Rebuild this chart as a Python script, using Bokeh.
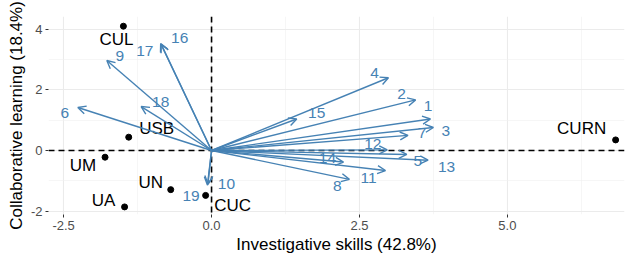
from bokeh.plotting import figure
from bokeh.models import (ColumnDataSource, Span, Arrow, OpenHead, FixedTicker,
                          Range1d, CustomJSTickFormatter)
from bokeh.embed import file_html
from bokeh.resources import INLINE
from bokeh.core.properties import value

# ---- data (variables: arrow tips) ----
var_names = [str(i) for i in range(1, 20)]
var_x = [3.70, 3.45, 3.75, 2.99, 3.30, -2.26, 3.32, 2.33, -1.77, -0.07,
         2.94, 2.97, 3.66, 2.23, 1.44, -0.86, -0.85, -1.19, -0.06]
var_y = [1.04, 1.67, 0.76, 2.40, -0.13, 1.42, 0.50, -0.95, 2.97, -1.14,
         -0.66, 0.02, -0.32, -0.38, 1.04, 3.53, 3.50, 1.45, -1.10]

# ---- data (individuals: points) ----
ind_names = ["CUL", "USB", "UM", "UN", "UA", "CUC", "CURN"]
ind_x = [-1.49, -1.40, -1.80, -0.69, -1.47, -0.10, 6.83]
ind_y = [4.10, 0.44, -0.22, -1.29, -1.86, -1.48, 0.35]

x_ticks = [-2.5, 0.0, 2.5, 5.0]
x_minor = [-1.25, 1.25, 3.75, 6.25]
y_ticks = [-2, 0, 2, 4]
y_minor = [-1, 1, 3]

# label placement offsets (pixels, screen space)
var_dx = [-2.5, -14, 12.5, -14, 11, -13, 14, -12, 13, 19,
          -17, -14.5, 18.5, -16, 20, 19, -16.5, 19.5, -17]
var_dy = [-12.5, -5.5, 3.5, -4.5, 6.5, 6, -2.5, 6.5, -4.5, -1.5,
          7, -5.5, 6.5, -4, -6, -5, 6.5, -4.5, 12.5]
ind_dx = [-7, 28, -22, -20, -21, 27, -34]
ind_dy = [13, -9, 8, -7, -6, 10, -11.5]

BLUE = "#4682B4"
FONT = "Liberation Sans"

p = figure(width=628, height=256, output_backend="svg", toolbar_location=None,
           x_range=Range1d(-2.756, 6.98), y_range=Range1d(-2.11, 4.42),
           min_border_left=48, min_border_right=4, min_border_top=16,
           min_border_bottom=42)
p.outline_line_color = None
p.background_fill_color = "white"

# axes
p.xaxis.ticker = FixedTicker(ticks=x_ticks, minor_ticks=x_minor)
p.yaxis.ticker = FixedTicker(ticks=y_ticks, minor_ticks=y_minor)
p.xaxis.formatter = CustomJSTickFormatter(code="return tick.toFixed(1);")
p.yaxis.formatter = CustomJSTickFormatter(code="return tick.toFixed(0);")
p.xaxis.axis_label = "Investigative skills (42.8%)"
p.yaxis.axis_label = "Collaborative learning (18.4%)"
for ax in (p.xaxis, p.yaxis):
    ax.axis_line_color = None
    ax.major_tick_line_color = "#333333"
    ax.major_tick_in = 0
    ax.major_tick_out = 3
    ax.minor_tick_line_color = None
    ax.major_label_text_color = "#4D4D4D"
    ax.major_label_text_font = FONT
    ax.major_label_text_font_size = "13px"
    ax.major_label_standoff = 2
    ax.axis_label_text_font = FONT
    ax.axis_label_text_font_size = "17px"
    ax.axis_label_text_font_style = "normal"
    ax.axis_label_text_color = "black"
    ax.axis_label_standoff = 2

for g in (p.xgrid, p.ygrid):
    g.grid_line_color = "#EBEBEB"
    g.grid_line_width = 1.1
    g.minor_grid_line_color = "#F0F0F0"
    g.minor_grid_line_width = 0.6

# dashed reference lines
p.add_layout(Span(location=0, dimension="height", line_color="black",
                  line_width=1.6, line_dash="6 4"))
p.add_layout(Span(location=0, dimension="width", line_color="black",
                  line_width=1.6, line_dash="6 4"))

# arrows
arr_src = ColumnDataSource(dict(x0=[0.0] * len(var_x), y0=[0.0] * len(var_y),
                                x1=var_x, y1=var_y))
p.add_layout(Arrow(source=arr_src, x_start="x0", y_start="y0", x_end="x1", y_end="y1",
                   line_color=BLUE, line_width=1.4,
                   end=OpenHead(size=8, line_color=BLUE, line_width=1.4)))

var_src = ColumnDataSource(dict(x=var_x, y=var_y, name=var_names, dx=var_dx, dy=var_dy))
p.text(x="x", y="y", text="name", x_offset="dx", y_offset="dy", source=var_src,
       text_font=value(FONT), text_font_size="15.5px", text_color=BLUE,
       text_align="center", text_baseline="middle")

ind_src = ColumnDataSource(dict(x=ind_x, y=ind_y, name=ind_names, dx=ind_dx, dy=ind_dy))
p.scatter(x="x", y="y", source=ind_src, size=6, color="black")
p.text(x="x", y="y", text="name", x_offset="dx", y_offset="dy", source=ind_src,
       text_font=value(FONT), text_font_size="17px", text_color="black",
       text_align="center", text_baseline="middle")

open("out.html", "w").write(file_html(p, INLINE))
